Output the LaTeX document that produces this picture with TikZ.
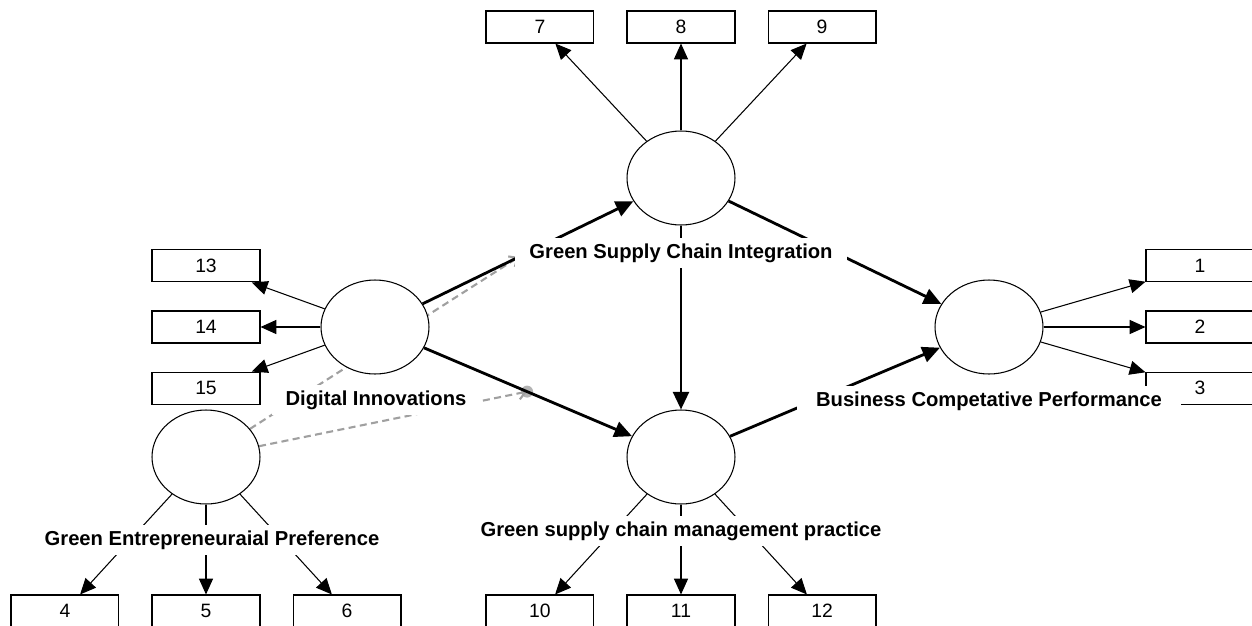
\documentclass[tikz,border=0pt]{standalone}
\usepackage{fontspec}
\setmainfont{Liberation Sans}
\usetikzlibrary{shapes.geometric, arrows.meta, positioning, calc, backgrounds}
\definecolor{modGray}{HTML}{A0A0A0}
\tikzstyle{latent} = [ellipse, draw, fill=white, line width=0.6pt,
  minimum width=2.16cm, minimum height=1.88cm, inner sep=0pt]
\tikzstyle{item} = [rectangle, draw, fill=white, line width=0.6pt,
  minimum width=2.16cm, minimum height=0.64cm, inner sep=0pt,
  font=\fontsize{11}{13}\selectfont]
\tikzstyle{lbl} = [fill=white, font=\bfseries\fontsize{11.5}{13}\selectfont,
  inner xsep=8pt, inner ysep=3pt]
\tikzstyle{load} = [-{Triangle[length=9pt,width=8pt]}, line width=0.6pt]
\tikzstyle{struct} = [-{Triangle[length=10pt,width=9pt]}, line width=1.6pt]
\tikzstyle{moder} = [-{Straight Barb[length=4pt,width=7pt]}, dash pattern=on 4pt off 2.5pt,
  color=modGray, line width=1.2pt]

\begin{document}
\begin{tikzpicture}[x=0.02cm, y=-0.02cm]
  \useasboundingbox (0,0) rectangle (1252,626);

  % Latent constructs
  \node[latent] (gsci) at (681,178) {};
  \node[latent] (di) at (375,327) {};
  \node[latent] (gep) at (206,457) {};
  \node[latent] (gscmp) at (681,457) {};
  \node[latent] (bcp) at (989,327) {};

  % Indicators: Green Supply Chain Integration
  \node[item] (i8) at (681,27) {8};
  \node[item, left=0.64cm of i8] (i7) {7};
  \node[item, right=0.64cm of i8] (i9) {9};

  % Indicators: Digital Innovations
  \node[item] (i14) at (206,327) {14};
  \node[item, above=0.56cm of i14] (i13) {13};
  \node[item, below=0.56cm of i14] (i15) {15};

  % Indicators: Business Competative Performance
  \node[item] (i2) at (1200,327) {2};
  \node[item, above=0.56cm of i2] (i1) {1};
  \node[item, below=0.56cm of i2] (i3) {3};

  % Indicators: Green Entrepreneuraial Preference
  \node[item] (i5) at (206,611) {5};
  \node[item, left=0.64cm of i5] (i4) {4};
  \node[item, right=0.64cm of i5] (i6) {6};

  % Indicators: Green supply chain management practice
  \node[item] (i11) at (681,611) {11};
  \node[item, left=0.64cm of i11] (i10) {10};
  \node[item, right=0.64cm of i11] (i12) {12};

  % Moderating effects
  \coordinate (m1) at ($(di)!0.47!(gsci)$);
  \coordinate (m2) at ($(di)!0.497!(gscmp)$);
  \begin{scope}[on background layer]
    \fill[modGray!80] (m2) circle (0.12cm);
    \draw[moder] (gep) -- (m1);
    \draw[moder] (gep) -- (m2);
  \end{scope}

  % Loadings
  \foreach \t in {i7, i8, i9} {
    \draw[load] (gsci) -- (\t);
  }
  \foreach \t in {i13, i14, i15} {
    \draw[load] (di) -- (\t);
  }
  \foreach \t in {i1, i2, i3} {
    \draw[load] (bcp) -- (\t);
  }
  \foreach \t in {i4, i5, i6} {
    \draw[load] (gep) -- (\t);
  }
  \foreach \t in {i10, i11, i12} {
    \draw[load] (gscmp) -- (\t);
  }

  % Structural paths
  \draw[struct] (di) -- (gsci);
  \draw[struct] (di) -- (gscmp);
  \draw[struct] (gsci) -- (gscmp);
  \draw[struct] (gsci) -- (bcp);
  \draw[struct] (gscmp) -- (bcp);

  % Construct labels
  \node[lbl] (lgsci) at (681,253) {Green Supply Chain Integration};
  \node[lbl] (ldi) at (376,400) {Digital Innovations};
  \node[lbl] (lgep) at (212,540) {Green Entrepreneuraial Preference};
  \node[lbl] (lgscmp) at (681,531) {Green supply chain management practice};
  \node[lbl, inner xsep=11pt] (lbcp) at (989,401) {Business Competative Performance};
\end{tikzpicture}
\end{document}
